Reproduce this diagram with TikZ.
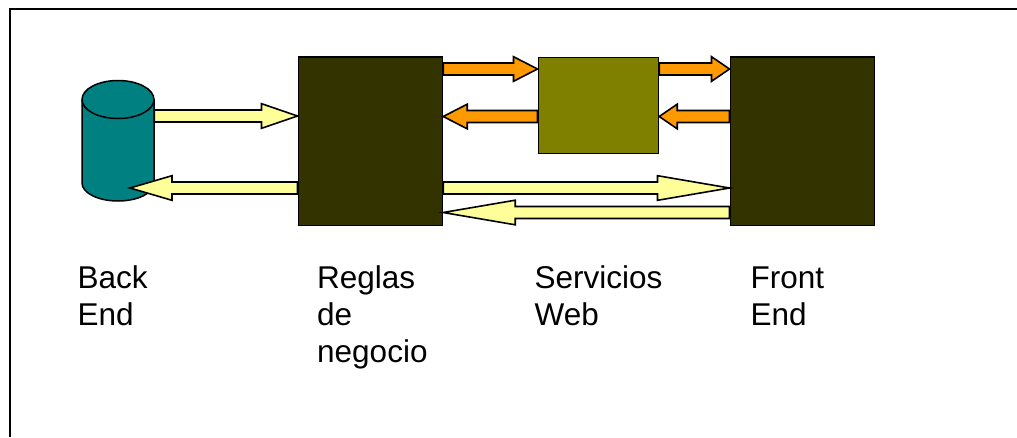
\documentclass[tikz,border=0pt]{standalone}
\usepackage{fontspec}
\setmainfont{Liberation Sans}
\usetikzlibrary{calc}
\definecolor{darkbox}{HTML}{333300}
\definecolor{olivebox}{HTML}{808000}
\definecolor{tealcyl}{HTML}{008080}
\definecolor{yellowarrow}{HTML}{FFFF99}
\definecolor{orangearrow}{HTML}{FF9900}
\tikzset{
  boxnode/.style={draw=black,line width=1.7pt,inner sep=0pt,anchor=north west},
  bigbox/.style={boxnode,fill=darkbox,minimum width=144pt,minimum height=168.5pt},
  midbox/.style={boxnode,fill=olivebox,minimum width=120pt,minimum height=96pt},
  caption/.style={anchor=north west,inner sep=0pt,align=left,font=\fontsize{31.5}{37}\selectfont},
  yarrow/.style={draw=black,line width=1.6pt,fill=yellowarrow,line join=miter},
  oarrow/.style={draw=black,line width=1.6pt,fill=orangearrow,line join=miter},
  cylline/.style={draw=black,line width=1.5pt,fill=tealcyl}
}
\newcommand{\firstline}{\rule{0pt}{30pt}}
% style, from, to, y, head length (signed along the direction of travel)
\newcommand{\blockarrow}[5]{%
  \draw[#1] let \p1=(#2 |- 0,#4), \p2=(#3 |- 0,#4) in
    (\x1,\y1+6pt) -- (\x2-#5pt,\y1+6pt) -- (\x2-#5pt,\y1+12.3pt) -- (\x2,\y1)
    -- (\x2-#5pt,\y1-12.3pt) -- (\x2-#5pt,\y1-6pt) -- (\x1,\y1-6pt) -- cycle;}
\begin{document}
\begin{tikzpicture}[x=1pt,y=-1pt]
\useasboundingbox (0,0) rectangle (1017,437);
\draw[black,line width=2pt] (9.5,437) -- (9.5,8.5) -- (1017,8.5);
% cylinder
\coordinate (backtip) at (130,188);
\node[inner sep=0pt,minimum width=72pt,minimum height=120pt] (backend) at (118,140) {};
\path[cylline] (82,99.5) -- (82,183) arc[start angle=180,end angle=360,x radius=36pt,y radius=18pt]
  -- (154,99.5) arc[start angle=0,end angle=180,x radius=36pt,y radius=19pt] -- cycle;
\draw[black,line width=1.5pt] (82,99.5) arc[start angle=180,end angle=360,x radius=36pt,y radius=19pt];
% boxes
\node[bigbox] (reglas) at (297.5,56) {};
\node[midbox] (servicios) at (537.5,56.5) {};
\node[bigbox] (front) at (729.5,56) {};
% yellow arrows
\blockarrow{yarrow}{backend.east}{reglas.west}{116}{36}
\blockarrow{yarrow}{reglas.west}{backtip}{188}{-42}
\blockarrow{yarrow}{reglas.east}{front.west}{188}{72}
\blockarrow{yarrow}{front.west}{reglas.east}{212.5}{-72}
% orange arrows
\blockarrow{oarrow}{reglas.east}{servicios.west}{69}{24}
\blockarrow{oarrow}{servicios.east}{front.west}{69}{18}
\blockarrow{oarrow}{servicios.west}{reglas.east}{116.5}{-24}
\blockarrow{oarrow}{front.west}{servicios.east}{116.5}{-18}
% captions
\node[caption] (lback) at (77.5,258) {\firstline Back\\End};
\node[caption] (lreglas) at (317,258) {\firstline Reglas\\de\\negocio};
\node[caption] (lserv) at (534.5,258) {\firstline Servicios\\Web};
\node[caption] (lfront) at (750.5,258) {\firstline Front\\End};
\end{tikzpicture}
\end{document}
